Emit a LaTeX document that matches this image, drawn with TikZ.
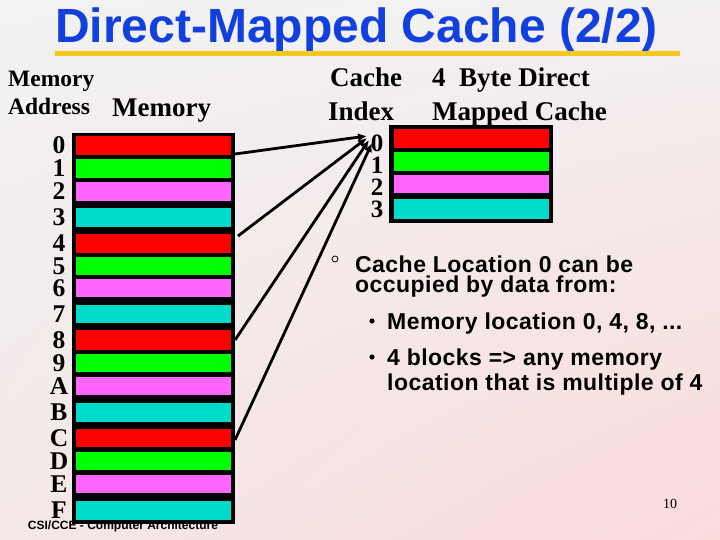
\documentclass[tikz,border=0pt]{standalone}
\usepackage{fontspec}
\setmainfont{Liberation Serif}
\newfontfamily\arial{Liberation Sans}
\newfontfamily\arialsp{Liberation Sans}[LetterSpace=2]
\usetikzlibrary{arrows.meta,shadings}
\definecolor{cred}{RGB}{255,0,0}
\definecolor{cgreen}{RGB}{0,255,0}
\definecolor{cpink}{RGB}{255,102,255}
\definecolor{ccyan}{RGB}{0,220,204}
\definecolor{titleblue}{RGB}{18,64,222}
\definecolor{gold}{RGB}{245,200,30}
\definecolor{bgUL}{RGB}{242,242,242}
\definecolor{bgUR}{RGB}{243,240,240}
\definecolor{bgLL}{RGB}{244,232,232}
\definecolor{bgLR}{RGB}{251,218,218}
\begin{document}
\begin{tikzpicture}[x=1pt,y=-1pt,
  lab/.style={font=\bfseries\fontsize{25.5}{25.5}\selectfont, inner sep=0},
  hdr/.style={font=\bfseries\fontsize{27}{27}\selectfont, inner sep=0, anchor=base west},
  small/.style={font=\bfseries\fontsize{23.5}{23.5}\selectfont, inner sep=0, anchor=base west},
  bul/.style={font=\arialsp\bfseries\fontsize{23}{23}\selectfont, inner sep=0, anchor=base west},
  cell/.style={inner sep=0, outer sep=0, minimum width=155pt, draw=none},
  conn/.style={line width=2.8pt, -{Latex[length=9pt,width=8pt]}}]
\useasboundingbox (0,0) rectangle (720,540);
\shade[upper left=bgUL, upper right=bgUR, lower left=bgLL, lower right=bgLR] (0,0) rectangle (720,540);
% title
\node[anchor=base west, inner sep=0, font=\arial\bfseries\fontsize{48}{48}\selectfont, text=titleblue] (title) at (55,43) {Direct-Mapped Cache (2/2)};
\fill[gold] (55,51) rectangle (680,56);
% headings
\node[small] (ma1) at (8,87) {Memory};
\node[small] (ma2) at (8,115) {Address};
\node[hdr] (memh) at (112,117) {Memory};
\node[hdr] (ci1) at (330,87) {Cache};
\node[hdr] (ci2) at (328,121) {Index};
\node[hdr] (dm1) at (432,87) {4\ \ Byte Direct};
\node[hdr] (dm2) at (432,121) {Mapped Cache};
% footer
\node[anchor=center, inner sep=0, font=\arial\bfseries\fontsize{12}{12}\selectfont] (foot) at (123,526) {CSI/CCE - Computer Architecture};
% memory
\fill[black] (72,133) rectangle (235,524);
\foreach \i/\t/\b/\c/\l in {0/136/155/cred/0, 1/159/178/cgreen/1, 2/182/201/cpink/2, 3/208/227/ccyan/3,
  4/234/253/cred/4, 5/257/275/cgreen/5, 6/279/297/cpink/6, 7/305/323/ccyan/7,
  8/330/350/cred/8, 9/354/372/cgreen/9, 10/377/395/cpink/A, 11/403/422/ccyan/B,
  12/429/447/cred/C, 13/452/470/cgreen/D, 14/475/493/cpink/E, 15/501/520/ccyan/F} {
  \node[cell, fill=\c, minimum height={(\b-\t)*1pt}] (m\i) at (153.5,{(\t+\b)/2}) {};
  \node[lab] (ml\i) at (59,{(\t+\b)/2}) {\l};
}
% cache
\fill[black] (389,125) rectangle (553,223);
\foreach \i/\t/\b/\c/\y in {0/129/148/cred/143, 1/152/171/cgreen/165, 2/175/193/cpink/187, 3/199/219/ccyan/209} {
  \node[cell, fill=\c, minimum height={(\b-\t)*1pt}] (c\i) at (471.5,{(\t+\b)/2}) {};
  \node[lab, font=\bfseries\fontsize{25}{25}\selectfont] (cl\i) at (377,\y) {\i};
}
% connectors
\coordinate (s0) at (235,154);
\coordinate (s4) at (238,236);
\coordinate (s8) at (235,340);
\coordinate (s12) at (235,440);
\coordinate (t0) at (367,136);
\coordinate (t4) at (367,138);
\coordinate (t8) at (369,140);
\coordinate (t12) at (372,143);
\draw[conn] (s0) -- (t0);
\draw[conn] (s4) -- (t4);
\draw[conn] (s8) -- (t8);
\draw[conn] (s12) -- (t12);
% bullets
\draw[line width=0.8pt] (335,259) circle[radius=3];
\node[bul] (b1) at (355,272) {Cache Location 0 can be};
\node[bul] (b2) at (355,292) {occupied by data from:};
\fill (372,321) circle[radius=2.6];
\node[bul] (b3) at (387,329) {Memory location 0, 4, 8, ...};
\fill (372,357) circle[radius=2.6];
\node[bul] (b4) at (387,365) {4 blocks => any memory};
\node[bul] (b5) at (387,390) {location that is multiple of 4};
\node[inner sep=0, font=\fontsize{14}{14}\selectfont] (pg) at (670,504) {10};
\end{tikzpicture}
\end{document}
